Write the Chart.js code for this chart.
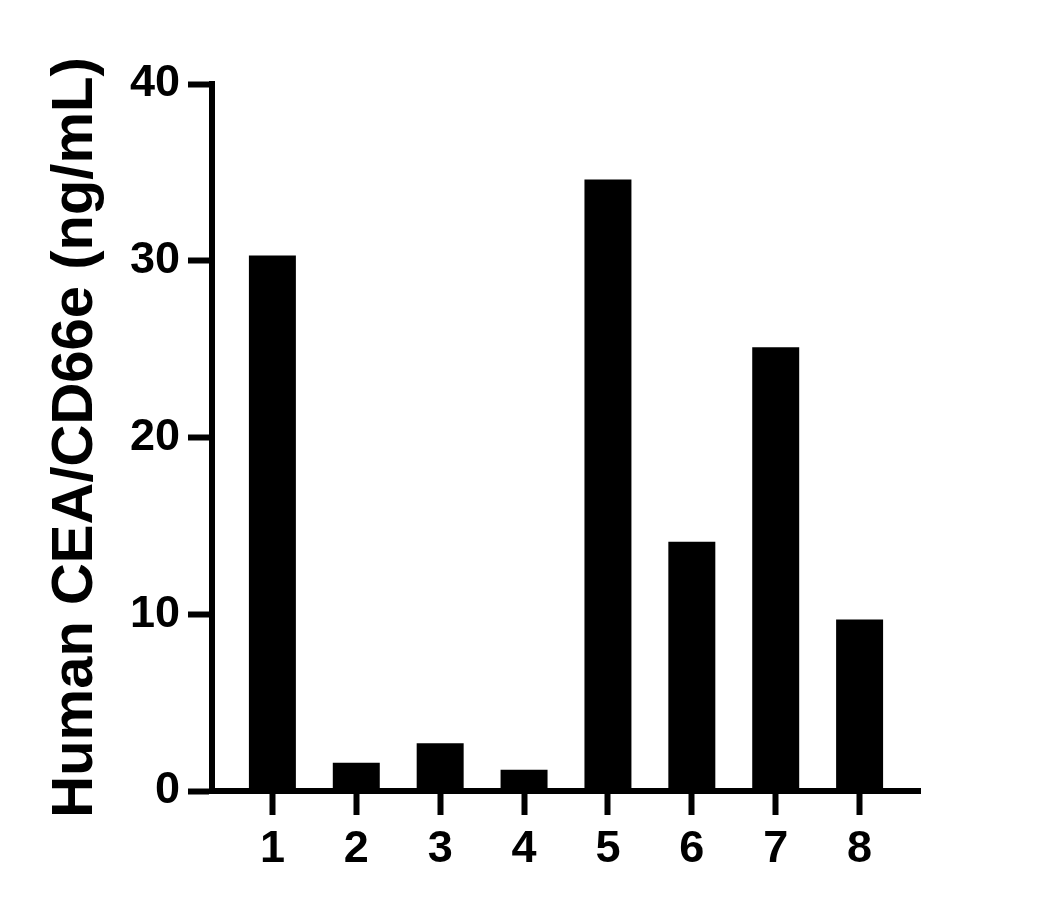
<!DOCTYPE html>
<html>
<head>
<meta charset="utf-8">
<script src="https://cdn.jsdelivr.net/npm/chart.js@4/dist/chart.umd.min.js"></script>
<style>
  html, body { margin: 0; padding: 0; background: #fff; }
  #wrap { width: 1054px; height: 909px; }
</style>
</head>
<body>
<div id="wrap"><canvas id="chart"></canvas></div>
<script>
// Sample numbers on the x axis and measured concentrations
const categories = ['1', '2', '3', '4', '5', '6', '7', '8'];
const concentrations = [30.3, 1.6, 2.7, 1.2, 34.6, 14.1, 25.1, 9.7];
const yTicks = [0, 10, 20, 30, 40];

const FONT = "Arial, 'Liberation Sans', sans-serif";

// Bars placed on a linear x scale so the axis can run past the outer bars
const points = categories.map((c, i) => ({ x: i + 1, y: concentrations[i] }));

new Chart(document.getElementById('chart'), {
    type: 'bar',
    data: {
        datasets: [{
            data: points,
            backgroundColor: '#000',
            borderWidth: 0,
            barPercentage: 0.56,
            categoryPercentage: 1
        }]
    },
    options: {
        responsive: true,
        maintainAspectRatio: false,
        animation: false,
        layout: { padding: { top: 84, right: 134, left: 0, bottom: 0 } },
        plugins: { legend: { display: false }, tooltip: { enabled: false } },
        scales: {
            x: {
                type: 'linear',
                min: 0.28,
                max: 8.72,
                offset: false,
                afterBuildTicks: (axis) => { axis.ticks = categories.map((c, i) => ({ value: i + 1 })); },
                afterFit: (axis) => { axis.height = 118; },
                grid: { offset: false, drawOnChartArea: false, drawTicks: true, tickLength: 24, tickWidth: 6, color: '#000' },
                border: { display: true, width: 6, color: '#000' },
                ticks: {
                    color: '#000',
                    padding: 8,
                    font: { family: FONT, size: 45, weight: 'bold' },
                    callback: (v) => categories[v - 1]
                }
            },
            y: {
                min: 0,
                max: 40,
                afterBuildTicks: (axis) => { axis.ticks = yTicks.map(v => ({ value: v })); },
                afterFit: (axis) => { axis.width = 212; },
                grid: { drawOnChartArea: false, drawTicks: true, tickLength: 24, tickWidth: 6, color: '#000' },
                border: { display: true, width: 6, color: '#000' },
                ticks: {
                    color: '#000',
                    padding: 8,
                    font: { family: FONT, size: 45, weight: 'bold' }
                },
                title: {
                    display: true,
                    text: 'Human CEA/CD66e (ng/mL)',
                    color: '#000',
                    padding: { top: 41, bottom: 0 },
                    font: { family: FONT, size: 58, weight: 'bold' }
                }
            }
        }
    }
});
</script>
</body>
</html>
